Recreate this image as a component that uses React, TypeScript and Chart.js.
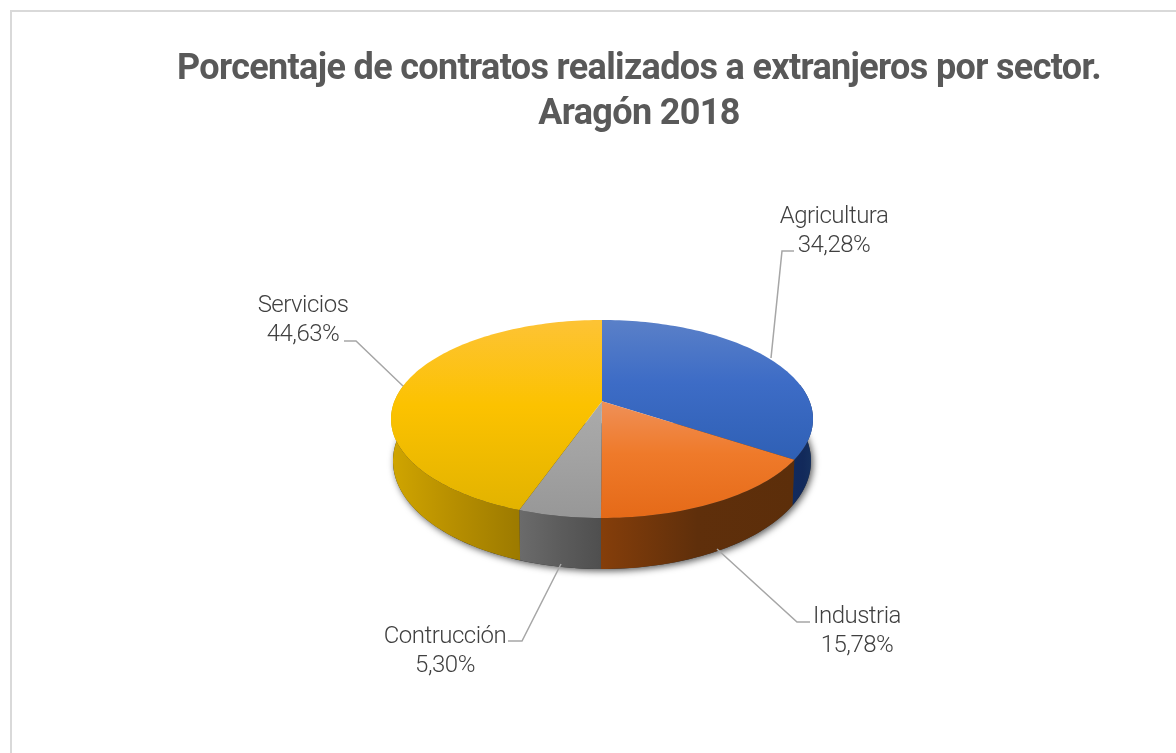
import React, { useEffect, useRef } from "react";
import { Chart, registerables } from "chart.js";

Chart.register(...registerables);

const categories = ["Agricultura", "Industria", "Contrucción", "Servicios"];
const shares = [34.28, 15.78, 5.3, 44.63];
const titleLines = ["Porcentaje de contratos realizados a extranjeros por sector.", "Aragón 2018"];

const faceStops = [
  ["#5a80c8", "#3d6cc6", "#2f60b5"],
  ["#ef9058", "#ef7a2a", "#e56a18"],
  ["#ababab", "#a3a3a3", "#979797"],
  ["#fdc335", "#fcc200", "#e2b300"],
];
const wallStops = [
  ["#102a5e", "#12295a", "#16315f"],
  ["#853e0a", "#5f2f0b", "#5c2e0a"],
  ["#6b6b6b", "#5c5c5c", "#4f4f4f"],
  ["#d0a500", "#b68e00", "#9c7a00"],
];
const labelBoxes = [
  { x: 834, y: 217, line: [[771, 358], [782, 251], [794, 251]] },
  { x: 857, y: 617, line: [[717, 549], [797, 622], [810, 622]] },
  { x: 445, y: 637, line: [[561, 564], [522, 641], [508, 641]] },
  { x: 303, y: 306, line: [[403, 386], [356, 341], [344, 341]] },
];

const SQUASH_TOP = 99 / 211;
const SQUASH_BOTTOM = 108 / 211;
const APEX_SHIFT = 0.18;
const DEPTH = 42;
const BOTTOM_INSET = 2;
const LABEL_FONT = '300 24px Roboto, "Open Sans", sans-serif';

function rimPoint(arc: any, angle: number, lower: boolean) {
  const phi = angle + Math.PI / 2;
  const u = Math.sin(phi);
  const v = -Math.cos(phi);
  const e = APEX_SHIFT;
  const d = 1 - e * v;
  const up = (u * Math.sqrt(1 - e * e)) / d;
  const vp = (v - e) / d;
  const r = arc.outerRadius - (lower ? BOTTOM_INSET : 0);
  const ry = arc.outerRadius * (lower ? SQUASH_BOTTOM : SQUASH_TOP);
  return { x: arc.x + up * r, y: arc.y + (lower ? DEPTH : 0) + vp * ry };
}

function rimPath(arc: any, a: number, b: number, lower: boolean) {
  const steps = Math.max(2, Math.ceil(Math.abs(b - a) * 40));
  const pts = [];
  for (let i = 0; i <= steps; i++) pts.push(rimPoint(arc, a + ((b - a) * i) / steps, lower));
  return pts;
}

const pie3d = {
  id: "pie3d",
  afterLayout(chart: any) {
    chart.titleBlock.left = 2 * 639 - chart.titleBlock.right;
  },
  beforeDraw(chart: any) {
    chart.ctx.letterSpacing = "-0.65px";
  },
  beforeDatasetsDraw(chart: any) {
    const ctx = chart.ctx;
    ctx.letterSpacing = "0px";
    const arcs = chart.getDatasetMeta(0).data;
    const edge = Math.acos(APEX_SHIFT);
    const wallStart = edge - Math.PI / 2;
    const wallEnd = 2 * Math.PI - edge - Math.PI / 2;
    const first = arcs[0];

    // soft shadow below the disc
    ctx.save();
    ctx.shadowColor = "rgba(0,0,0,0.65)";
    ctx.shadowBlur = 7;
    ctx.shadowOffsetX = 2;
    ctx.shadowOffsetY = 2;
    ctx.fillStyle = "#333";
    ctx.beginPath();
    rimPath(first, wallStart, wallEnd, true).forEach((p, i) => (i ? ctx.lineTo(p.x, p.y) : ctx.moveTo(p.x, p.y)));
    ctx.closePath();
    ctx.fill();
    ctx.restore();

    // walls
    arcs.forEach((arc: any, i: number) => {
      const a = Math.max(arc.startAngle, wallStart);
      const b = Math.min(arc.endAngle, wallEnd);
      if (b <= a) return;
      const top = rimPath(arc, a, b, false);
      const bottom = rimPath(arc, b, a, true);
      const xs = top.concat(bottom).map((p) => p.x);
      const g = ctx.createLinearGradient(Math.min(...xs), 0, Math.max(...xs), 0);
      const stops = wallStops[i];
      g.addColorStop(0, stops[0]);
      g.addColorStop(0.5, stops[1]);
      g.addColorStop(1, stops[2]);
      ctx.fillStyle = g;
      ctx.beginPath();
      top.concat(bottom).forEach((p, k) => (k ? ctx.lineTo(p.x, p.y) : ctx.moveTo(p.x, p.y)));
      ctx.closePath();
      ctx.fill();
    });

    // top faces
    arcs.forEach((arc: any, i: number) => {
      const rim = rimPath(arc, arc.startAngle, arc.endAngle, false);
      const apex = { x: arc.x, y: arc.y - APEX_SHIFT * arc.outerRadius * SQUASH_TOP };
      const ys = rim.map((p) => p.y).concat(apex.y);
      const g = ctx.createLinearGradient(0, Math.min(...ys), 0, Math.max(...ys));
      const stops = faceStops[i];
      g.addColorStop(0, stops[0]);
      g.addColorStop(0.45, stops[1]);
      g.addColorStop(1, stops[2]);
      ctx.fillStyle = g;
      ctx.beginPath();
      ctx.moveTo(apex.x, apex.y);
      rim.forEach((p) => ctx.lineTo(p.x, p.y));
      ctx.closePath();
      ctx.fill();
    });
    return false;
  },
  afterDraw(chart: any) {
    const ctx = chart.ctx;
    ctx.save();
    ctx.strokeStyle = "#a6a6a6";
    ctx.lineWidth = 1.5;
    labelBoxes.forEach((box) => {
      ctx.beginPath();
      box.line.forEach(([x, y], i) => (i ? ctx.lineTo(x, y) : ctx.moveTo(x, y)));
      ctx.stroke();
    });
    ctx.fillStyle = "#404040";
    ctx.font = LABEL_FONT;
    ctx.letterSpacing = "-0.5px";
    ctx.textAlign = "center";
    ctx.textBaseline = "middle";
    labelBoxes.forEach((box, i) => {
      ctx.fillText(categories[i], box.x, box.y);
      ctx.fillText(shares[i].toFixed(2).replace(".", ",") + "%", box.x, box.y + 29);
    });
    ctx.restore();
  },
};

export default function App() {
  const ref = useRef<HTMLCanvasElement>(null);
  useEffect(() => {
    const chart = new Chart(ref.current!, {
      type: "pie",
      data: {
        labels: categories,
        datasets: [{ data: shares, radius: 211, borderWidth: 0 } as any],
      },
      options: {
        responsive: false,
        animation: false,
        layout: { padding: { left: 28, right: 0, top: 0, bottom: 55 } },
        plugins: {
          legend: { display: false },
          tooltip: { enabled: false },
          title: {
            display: true,
            text: titleLines,
            color: "#595959",
            font: { family: 'Roboto, sans-serif', size: 36, weight: "bold", lineHeight: 1.25 },
            padding: { top: 47, bottom: 3 },
          },
        },
      },
      plugins: [pie3d],
    } as any);
    return () => chart.destroy();
  }, []);
  return (
    <div style={{ position: "fixed", left: 0, top: 0, width: 1176, height: 753, background: "#fff", overflow: "hidden" }}>
      <div style={{ position: "absolute", left: 10, top: 10, width: 1200, height: 800, borderLeft: "2px solid #d9d9d9", borderTop: "2px solid #d9d9d9" }} />
      <canvas ref={ref} width={1176} height={753} style={{ position: "absolute", left: 0, top: 0 }} />
    </div>
  );
}
